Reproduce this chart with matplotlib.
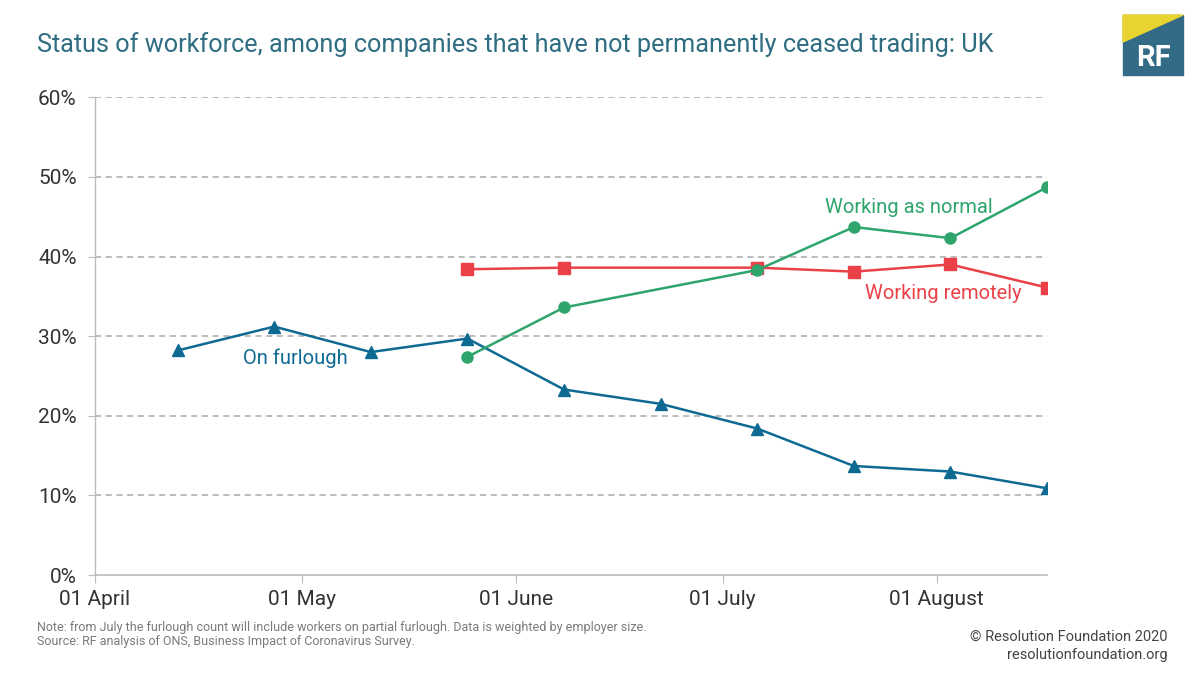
import datetime as dt

import matplotlib
matplotlib.use("Agg")
import matplotlib.dates as mdates
import matplotlib.pyplot as plt
from matplotlib.patches import Polygon, Rectangle

plt.rcParams["font.family"] = ["Roboto", "DejaVu Sans"]

# Survey waves (fortnightly)
furlough_dates = ["2020-04-13", "2020-04-27", "2020-05-11", "2020-05-25", "2020-06-08",
                  "2020-06-22", "2020-07-06", "2020-07-20", "2020-08-03", "2020-08-17"]
furlough = [28.2, 31.2, 28.0, 29.7, 23.3, 21.5, 18.4, 13.7, 13.0, 10.9]

work_dates = ["2020-05-25", "2020-06-08", "2020-07-06", "2020-07-20", "2020-08-03", "2020-08-17"]
remote = [38.4, 38.6, 38.6, 38.1, 39.0, 36.1]
normal = [27.4, 33.6, 38.3, 43.7, 42.3, 48.7]

tick_dates = ["2020-04-01", "2020-05-01", "2020-06-01", "2020-07-01", "2020-08-01"]
tick_labels = ["01 April", "01 May", "01 June", "01 July", "01 August"]

BLUE = "#0e6a93"
GREEN = "#2ea56c"
RED = "#ea4148"
TEAL = "#2f6e82"
GREY = "#7a7a7a"


def to_dates(lst):
    return [dt.datetime.strptime(d, "%Y-%m-%d") for d in lst]


fig = plt.figure(figsize=(12, 6.75), dpi=100)
ax = fig.add_axes([0.079, 0.148, 0.7935, 0.708])

ax.plot(to_dates(furlough_dates), furlough, color=BLUE, lw=1.8, marker="^", ms=8, zorder=3)
ax.plot(to_dates(work_dates), remote, color=RED, lw=1.8, marker="s", ms=8, zorder=3)
ax.plot(to_dates(work_dates), normal, color=GREEN, lw=1.8, marker="o", ms=8, zorder=4)

ax.set_xlim(dt.datetime(2020, 4, 1), dt.datetime(2020, 8, 17))
ax.set_ylim(0, 60)
ax.set_yticks(range(0, 61, 10))
ax.set_yticklabels([f"{v}%" for v in range(0, 61, 10)])
ax.set_xticks(to_dates(tick_dates))
ax.set_xticklabels(tick_labels)

for v in range(10, 61, 10):
    ax.axhline(v, color="#aaaaaa", lw=1.1, ls=(0, (4, 3)), zorder=1)

for s in ["top", "right"]:
    ax.spines[s].set_visible(False)
ax.spines["left"].set_color("#bbbbbb")
ax.spines["bottom"].set_color("#bbbbbb")
ax.spines["left"].set_linewidth(1)
ax.spines["bottom"].set_linewidth(1.2)
ax.tick_params(axis="y", length=5, color="#bbbbbb", labelsize=15, labelcolor="#333333", pad=8)
ax.tick_params(axis="x", length=6, color="#bbbbbb", labelsize=15, labelcolor="#333333", pad=5)

ax.text(dt.datetime(2020, 4, 30), 27.2, "On furlough", color=BLUE, fontsize=14.5, ha="center", va="center")
ax.text(dt.datetime(2020, 7, 28), 46.2, "Working as normal", color=GREEN, fontsize=14.5, ha="center", va="center")
ax.text(dt.datetime(2020, 8, 2), 35.4, "Working remotely", color=RED, fontsize=14.5, ha="center", va="center")

fig.text(0.031, 0.934, "Status of workforce, among companies that have not permanently ceased trading: UK",
         color=TEAL, fontsize=18.2, ha="left", va="center")

fig.text(0.031, 0.071, "Note: from July the furlough count will include workers on partial furlough. "
         "Data is weighted by employer size.", color=GREY, fontsize=9, ha="left", va="center")
fig.text(0.031, 0.050, "Source: RF analysis of ONS, Business Impact of Coronavirus Survey.",
         color=GREY, fontsize=9, ha="left", va="center")
fig.text(0.973, 0.056, "\u00a9 Resolution Foundation 2020", color="#444444", fontsize=10.5, ha="right", va="center")
fig.text(0.973, 0.030, "resolutionfoundation.org", color="#444444", fontsize=10.5, ha="right", va="center")

# RF logo
x0, x1 = 1123 / 1200, 1183 / 1200
y0, y1 = 1 - 75 / 675, 1 - 15 / 675
fig.patches.append(Rectangle((x0, y0), x1 - x0, y1 - y0, transform=fig.transFigure,
                             color="#336b87", zorder=1))
fig.patches.append(Polygon([(x0, y1), (x1, y1), (x0, 1 - 42 / 675)], closed=True,
                           transform=fig.transFigure, color="#e8d431", zorder=2))
fig.text((x0 + x1) / 2, 1 - 58 / 675, "RF", color="white", fontsize=21, fontweight="bold",
         ha="center", va="center", zorder=3)

fig.savefig("out.png", dpi=100)
